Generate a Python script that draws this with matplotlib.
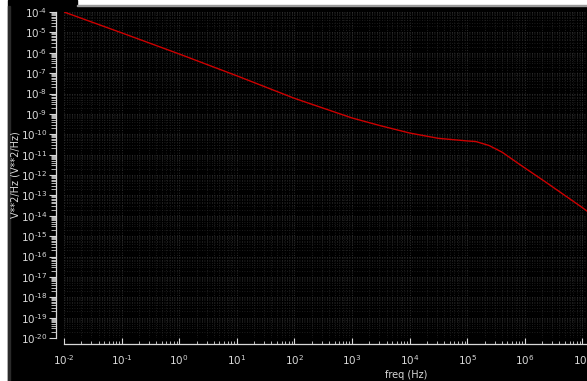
import math
import matplotlib.pyplot as plt
from matplotlib.patches import Rectangle
from matplotlib.ticker import LogLocator, FixedLocator, FuncFormatter, NullFormatter

# noise spectral density
freq = [1e-2, 1e-1, 1e0, 1e1, 1e2, 1e3, 3.16e3, 1e4, 3.16e4, 1e5,
        1.41e5, 2.4e5, 4.07e5, 7.9e5, 2.3e6, 1e7, 1.2e7]
psd = [1.0e-4, 9.5e-6, 8.7e-7, 7.4e-8, 5.8e-9, 6.3e-10, 2.6e-10, 1.15e-10,
       6.3e-11, 4.7e-11, 4.4e-11, 2.8e-11, 1.3e-11, 3.5e-12, 4.5e-13,
       2.5e-14, 1.7e-14]

x_decades = [-2, -1, 0, 1, 2, 3, 4, 5, 6, 7]
y_decades = list(range(-20, -3))

W, H = 587, 381
fig = plt.figure(figsize=(W / 100, H / 100), dpi=100)
fig.patch.set_facecolor("white")

# dark panel behind the plot
panel = [
    ((8, 0), W - 8, H - 6, "black"),
    ((8, H - 6), 77 - 8, 6, "black"),
    ((77, H - 6), W - 77, 1.5, "#9a9a9a"),
    ((8, 0), 2, H - 6, "#2a2a2a"),
]
for (px, py), pw, ph, c in panel:
    fig.patches.append(Rectangle((px / W, py / H), pw / W, ph / H,
                                 transform=fig.transFigure, color=c, zorder=-5))

left, right = 64, 587
top, bottom = 12, 338
ax = fig.add_axes([left / W, (H - bottom) / H, (right - left) / W, (bottom - top) / H])
ax.set_zorder(2)
ax.set_facecolor("black")

ax.plot(freq, psd, color="#cc0000", linewidth=1.0)

ax.set_xscale("log")
ax.set_yscale("log")
ax.set_xlim(1e-2, 10 ** (-2 + (right - left) / 57.6))
ax.set_ylim(1e-20, 1e-4)

fg = "#d8d8d8"
ax.xaxis.set_major_locator(FixedLocator([10.0 ** d for d in x_decades]))
ax.yaxis.set_major_locator(FixedLocator([10.0 ** d for d in y_decades]))
ax.xaxis.set_minor_locator(LogLocator(base=10, subs=range(2, 10), numticks=30))
ax.yaxis.set_minor_locator(LogLocator(base=10, subs=range(2, 10), numticks=30))
ax.xaxis.set_minor_formatter(NullFormatter())
ax.yaxis.set_minor_formatter(NullFormatter())


def pow_label(v, pos):
    return r"$\mathregular{10^{%s}}$" % str(round(math.log10(v))).replace("-", r"\text{-}")


ax.xaxis.set_major_formatter(FuncFormatter(pow_label))
ax.yaxis.set_major_formatter(FuncFormatter(pow_label))

for s in ["top", "right"]:
    ax.spines[s].set_visible(False)
ax.spines["left"].set_position(("outward", 6))
ax.spines["bottom"].set_position(("outward", 4))
for s in ["left", "bottom"]:
    ax.spines[s].set_color(fg)
    ax.spines[s].set_linewidth(0.9)

ax.tick_params(axis="y", which="major", direction="out", length=5, width=0.8,
               color=fg, labelcolor=fg, labelsize=7.5, pad=1)
ax.tick_params(axis="y", which="minor", direction="out", length=3.5, width=0.6, color=fg)
ax.tick_params(axis="x", which="major", direction="in", length=4, width=0.8,
               color=fg, labelcolor=fg, labelsize=7.5, pad=7)
ax.tick_params(axis="x", which="minor", direction="in", length=2.5, width=0.6, color=fg)

ax.grid(True, which="major", color="#3a3a3a", linestyle=(0, (1, 2)), linewidth=0.6)
ax.grid(True, which="minor", color="#262626", linestyle=(0, (1, 2)), linewidth=0.6)
ax.set_axisbelow(True)

fig.text(16 / W, 1 - 175 / H, "V**2/Hz (V**2/Hz)", color=fg, fontsize=7,
         rotation=90, ha="center", va="center")
fig.text(406 / W, 1 - 375 / H, "freq (Hz)", color=fg, fontsize=7,
         ha="center", va="center")

fig.savefig("out.png", dpi=100, facecolor=fig.get_facecolor())
